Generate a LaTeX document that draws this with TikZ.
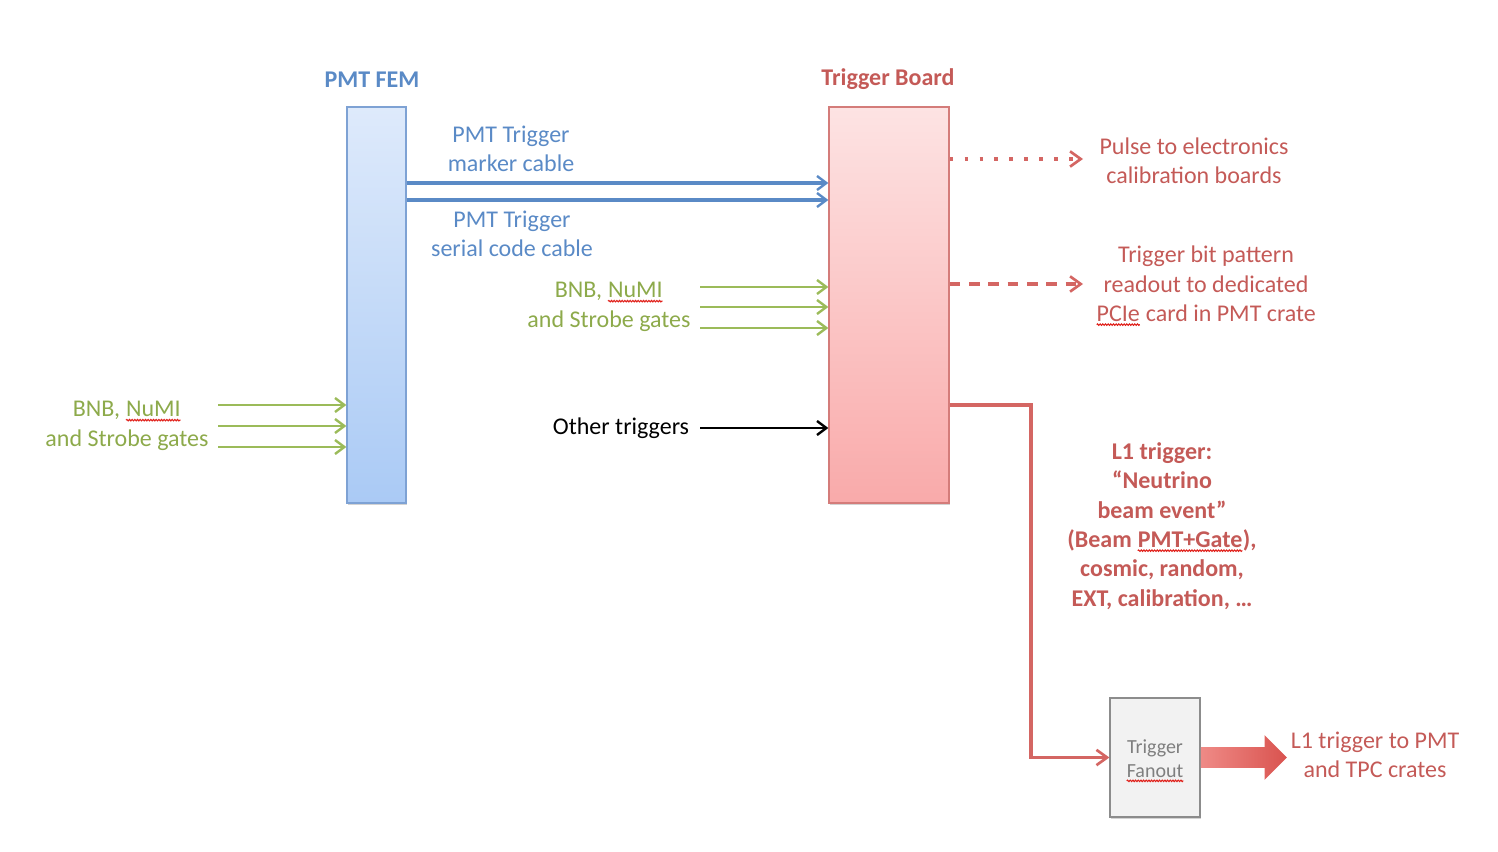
\documentclass[tikz,border=0pt]{standalone}
\usepackage{fontspec}
\setmainfont{Carlito}
\usetikzlibrary{arrows.meta,shadows,shapes.arrows,decorations.pathmorphing}
\definecolor{bluetxt}{HTML}{5A8AC6}
\definecolor{blueln}{HTML}{5A8AC6}
\definecolor{redtxt}{HTML}{C45A57}
\definecolor{redln}{HTML}{D46663}
\definecolor{greenln}{HTML}{9BBB59}
\definecolor{greentxt}{HTML}{8DAA4B}
\definecolor{femtop}{HTML}{DEEAFB}
\definecolor{fembot}{HTML}{AACAF5}
\definecolor{femdraw}{HTML}{7EA2D4}
\definecolor{tbtop}{HTML}{FDE3E3}
\definecolor{tbbot}{HTML}{F9AAAA}
\definecolor{tbdraw}{HTML}{D47C7A}
\definecolor{fanfill}{HTML}{F2F2F2}
\definecolor{fandraw}{HTML}{8C8C8C}
\definecolor{fantxt}{HTML}{7F7F7F}
\definecolor{baleft}{HTML}{EF8A86}
\definecolor{baright}{HTML}{D9534F}
\definecolor{squig}{HTML}{E0201A}
\newcommand\sqw[1]{\tikz[baseline=(w.base)]{\node[shape=rectangle,draw=none,fill=none,inner sep=0pt,outer sep=0pt,
    minimum width=0pt,minimum height=0pt,anchor=base] (w) {#1};
  \draw[squig,line width=0.8pt,decorate,decoration={snake,amplitude=0.55pt,segment length=2pt}] ([yshift=-2.4pt]w.base west) -- ([yshift=-2.4pt]w.base east);}}
\tikzset{
  txt/.style={font=\fontsize{18}{22}\selectfont, align=center, inner sep=0pt},
  femrect/.style={draw=femdraw, line width=1pt, top color=femtop, bottom color=fembot,
    minimum width=44.25pt, minimum height=297pt, inner sep=0pt,
    drop shadow={shadow xshift=1pt,shadow yshift=-1.5pt,opacity=0.35}},
  tbrect/.style={draw=tbdraw, line width=1pt, top color=tbtop, bottom color=tbbot,
    minimum width=90pt, minimum height=297pt, inner sep=0pt,
    drop shadow={shadow xshift=1pt,shadow yshift=-1.5pt,opacity=0.35}},
  fanrect/.style={draw=fandraw, line width=0.9pt, fill=fanfill,
    minimum width=67.5pt, minimum height=89.25pt, inner sep=0pt,
    drop shadow={shadow xshift=1pt,shadow yshift=-1.5pt,opacity=0.35}},
  fantext/.style={font=\fontsize{15}{18}\selectfont, text=fantxt, align=center, inner sep=0pt},
  barb/.style={-{Straight Barb[length=7pt,width=10.5pt,line width=1.8pt]}},
  bluearr/.style={barb, draw=blueln, line width=2.5pt},
  greenarr/.style={barb, draw=greenln, line width=2pt},
  blackarr/.style={barb, draw=black, line width=1.6pt},
  redarr/.style={-{Straight Barb[length=8pt,width=11.5pt,line width=2pt]}, draw=redln, line width=2.3pt},
  bigarrow/.style={single arrow, left color=baleft, right color=baright, draw=none,
    minimum height=64.5pt, minimum width=33pt, single arrow head extend=9pt,
    inner xsep=0pt, inner ysep=7.5pt}
}
\begin{document}
\begin{tikzpicture}[x=0.75pt,y=-0.75pt]
\useasboundingbox (0,0) rectangle (1498,852);
% boxes
\node[femrect] (fem) at (376.5,305) {};
\node[tbrect] (tb) at (889,305) {};
\node[fanrect] (fan) at (1155,757.5) {};
\node[fantext] (fanlbl) at (1155,761) {Trigger\\\sqw{Fanout}};
\node[bigarrow, anchor=tail] (ba) at (fan.east) {};
% titles
\node[txt, font=\fontsize{18}{22}\selectfont\bfseries, text=bluetxt] (femlbl) at (372,80) {PMT FEM};
\node[txt, font=\fontsize{18}{22}\selectfont\bfseries, text=redtxt] (tblbl) at (888,79) {Trigger Board};
% blue cables
\draw[bluearr] (fem.east |- 0,183) -- (tb.west |- 0,183);
\draw[bluearr] (fem.east |- 0,200) -- (tb.west |- 0,200);
\node[txt, text=bluetxt] (marker) at (511,149) {PMT Trigger\\marker cable};
\node[txt, text=bluetxt] (serial) at (512,234) {PMT Trigger\\serial code cable};
% green gates to trigger board
\node[txt, text=greentxt] (gates2) at (609,307) {BNB, \sqw{NuMI}\\and Strobe gates};
\coordinate (g2a) at (700,287);
\coordinate (g2b) at (700,307);
\coordinate (g2c) at (700,328);
\draw[greenarr] (g2a) -- (tb.west |- g2a);
\draw[greenarr] (g2b) -- (tb.west |- g2b);
\draw[greenarr] (g2c) -- (tb.west |- g2c);
% green gates to FEM
\node[txt, text=greentxt] (gates1) at (127,426) {BNB, \sqw{NuMI}\\and Strobe gates};
\coordinate (g1a) at (218,405);
\coordinate (g1b) at (218,426);
\coordinate (g1c) at (218,447);
\draw[greenarr, line width=1.6pt] (g1a) -- (fem.west |- g1a);
\draw[greenarr, line width=1.6pt] (g1b) -- (fem.west |- g1b);
\draw[greenarr, line width=1.6pt] (g1c) -- (fem.west |- g1c);
% other triggers
\node[txt, text=black] (other) at (621,428) {Other triggers};
\coordinate (oa) at (700,428);
\draw[blackarr] (oa) -- (tb.west |- oa);
% outputs
\coordinate (pulseend) at (1083,159);
\draw[redarr, line width=2.6pt, dash pattern=on 2.6pt off 8.6pt] (tb.east |- pulseend) -- (pulseend);
\node[txt, text=redtxt] (pulse) at (1194,161) {Pulse to electronics\\calibration boards};
\coordinate (bitend) at (1083,284);
\draw[redarr, dash pattern=on 8pt off 6.5pt] (tb.east |- bitend) -- (bitend);
\node[txt, text=redtxt] (bits) at (1206,286) {Trigger bit pattern\\readout to dedicated\\\sqw{PCIe} card in PMT crate};
% L1
\coordinate (l1s) at (949,405);
\draw[redarr] (tb.east |- l1s) -- (1031,405) |- (fan.west);
\node[txt, text=redtxt, font=\fontsize{18}{22}\selectfont\bfseries] (l1) at (1162,526)
  {L1 trigger:\\“Neutrino\\beam event”\\(Beam \sqw{PMT+Gate}),\\cosmic, random,\\EXT, calibration, …};
\node[txt, text=redtxt] (l1out) at (1375,755) {L1 trigger to PMT\\and TPC crates};
\end{tikzpicture}
\end{document}
